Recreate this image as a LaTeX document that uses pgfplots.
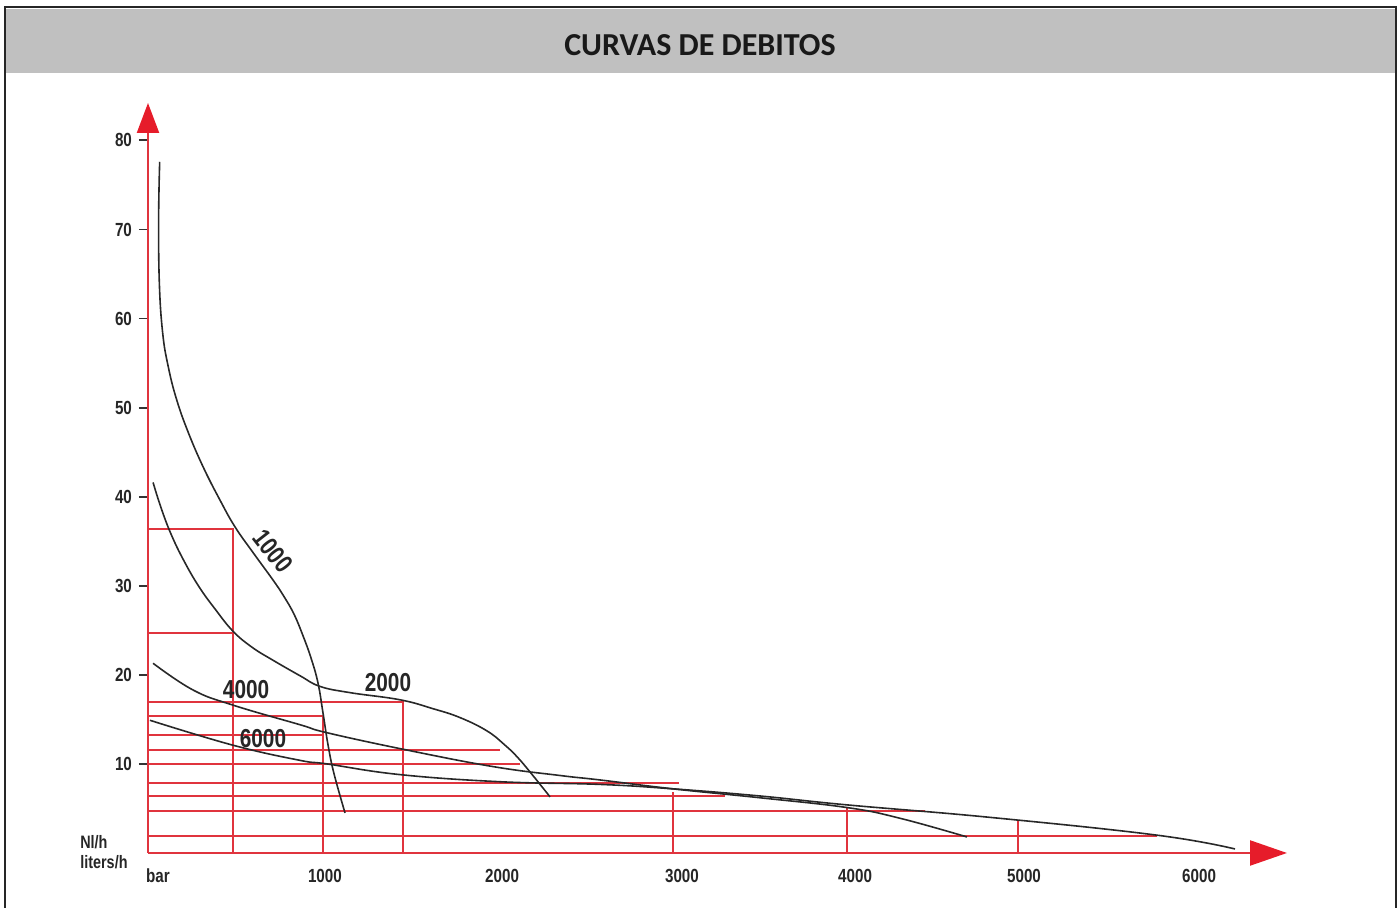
\documentclass[border=0pt]{standalone}
\usepackage{fontspec}
\setmainfont{Liberation Sans}
\newfontfamily\cond{Liberation Sans}[FakeStretch=0.8]
\newfontfamily\titlefont{Carlito}
\usepackage{pgfplots}
\pgfplotsset{compat=1.18}
\usetikzlibrary{arrows.meta}
\definecolor{redline}{RGB}{224,52,62}
\definecolor{arrowred}{RGB}{230,28,42}
\definecolor{curvecol}{RGB}{40,40,40}
\definecolor{barbg}{RGB}{192,192,192}
\tikzset{
  redl/.style={redline, line width=1pt, mark=none},
  crv/.style={curvecol, line width=0.8pt, mark=none, smooth, tension=0.7},
  lbl/.style={font=\cond\bfseries\fontsize{13}{15}\selectfont, text=black!85},
}

\begin{document}
\begin{tikzpicture}
\useasboundingbox (-74pt,-27.5pt) rectangle (625pt,426.5pt);
% frame and title bar, in pixel units of the reference
\begin{scope}[x=0.5pt,y=-0.5pt,shift={(-74pt,426.5pt)}]
  \fill[barbg] (6,9) rectangle (1395,73);
  \draw[line width=1.4pt,black!85] (5,908) -- (5,7) -- (1396,7) -- (1396,908);
  \node[font=\titlefont\bfseries\fontsize{16}{19}\selectfont,text=black!90] at (700,45) {CURVAS DE DEBITOS};
\end{scope}

\begin{axis}[
    at={(0pt,0pt)}, anchor=south west,
    scale only axis, width=569.5pt, height=375pt,
    xmin=0, xmax=6527, ymin=0, ymax=84.2,
    axis lines=left,
    axis line style={redline, line width=1.1pt},
    x axis line style={-{Triangle[length=18.5pt,width=12.5pt,color=arrowred]}},
    y axis line style={-{Triangle[length=15pt,width=11pt,color=arrowred]}},
    ytick={10,20,...,80},
    yticklabels={10,20,30,40,50,60,70,80},
    xtick={57,1014,2029,3060,4052,5020,6023},
    xticklabels={bar,1000,2000,3000,4000,5000,6000},
    tick align=outside, major tick length=4.5pt,
    ytick style={black!80, line width=0.9pt},
    xtick style={draw=none},
    tick label style={font=\cond\bfseries\fontsize{9.5}{11}\selectfont, text=black!85},
    clip=false,
]
% red reading lines
\addplot[redl] coordinates {(0,36.4) (487,36.4) (487,0)};
\addplot[redl] coordinates {(0,24.7) (487,24.7)};
\addplot[redl] coordinates {(0,17.0) (1461,17.0) (1461,0)};
\addplot[redl] coordinates {(0,15.4) (1003,15.4) (1003,0)};
\addplot[redl] coordinates {(0,13.2) (1003,13.2)};
\addplot[redl] coordinates {(0,11.6) (2017,11.6)};
\addplot[redl] coordinates {(0,10.0) (2132,10.0)};
\addplot[redl] coordinates {(0,7.9) (3040,7.9)};
\addplot[redl] coordinates {(0,6.4) (3307,6.4)};
\addplot[redl] coordinates {(0,4.7) (4453,4.7)};
\addplot[redl] coordinates {(0,1.9) (5782,1.9)};
\addplot[redl] coordinates {(3009,0) (3009,6.8)};
\addplot[redl] coordinates {(4006,0) (4006,5.2)};
\addplot[redl] coordinates {(4986,0) (4986,3.7)};

% 1000
\addplot[crv] coordinates {
  (67,77.6) (61,71.4) (65,64.0) (84,58.4) (116,54.6) (164,50.9)
  (231,47.2) (317,43.3) (413,39.6) (499,36.6) (603,33.7) (718,30.6)
  (779,28.8) (837,26.8) (888,24.4) (934,21.9) (974,19.1) (1003,15.7)
  (1032,12.1) (1066,8.9) (1129,4.5)
};
% 2000
\addplot[crv] coordinates {
  (29,41.6) (74,38.8) (132,35.8) (206,32.8) (292,29.9) (384,27.4)
  (487,24.9) (596,23.1) (711,21.7) (871,19.9) (986,18.7) (1158,18.0)
  (1444,17.2) (1633,16.2) (1788,15.2) (1943,13.7) (2046,12.1)
  (2115,10.8) (2189,9.1) (2304,6.3)
};
% 4000
\addplot[crv] coordinates {
  (29,21.3) (258,18.3) (487,16.6) (871,14.4) (1026,13.5) (1473,11.6)
  (1977,9.7) (2361,8.7) (2590,8.2) (3009,7.2) (3507,6.2) (4006,5.1)
  (4309,3.9) (4693,1.8)
};
% 6000
\addplot[crv] coordinates {
  (11,14.9) (487,12.1) (871,10.4) (1026,10.0) (1444,8.8) (2017,8.0)
  (2590,7.7) (3009,7.2) (3507,6.4) (4006,5.4) (4825,4.0) (5782,2.0)
  (6229,0.45)
};

\node[lbl, rotate=-52] at (axis cs:716,33.9) {1000};
\node[lbl] at (axis cs:1375,19.1) {2000};
\node[lbl] at (axis cs:562,18.3) {4000};
\node[lbl] at (axis cs:659,12.9) {6000};
\node[anchor=north west, align=left, inner sep=0pt,
      font=\cond\bfseries\fontsize{9}{10}\selectfont, text=black!85]
  at (axis cs:-390,2.0) {Nl/h\\liters/h};
\end{axis}
\end{tikzpicture}
\end{document}
